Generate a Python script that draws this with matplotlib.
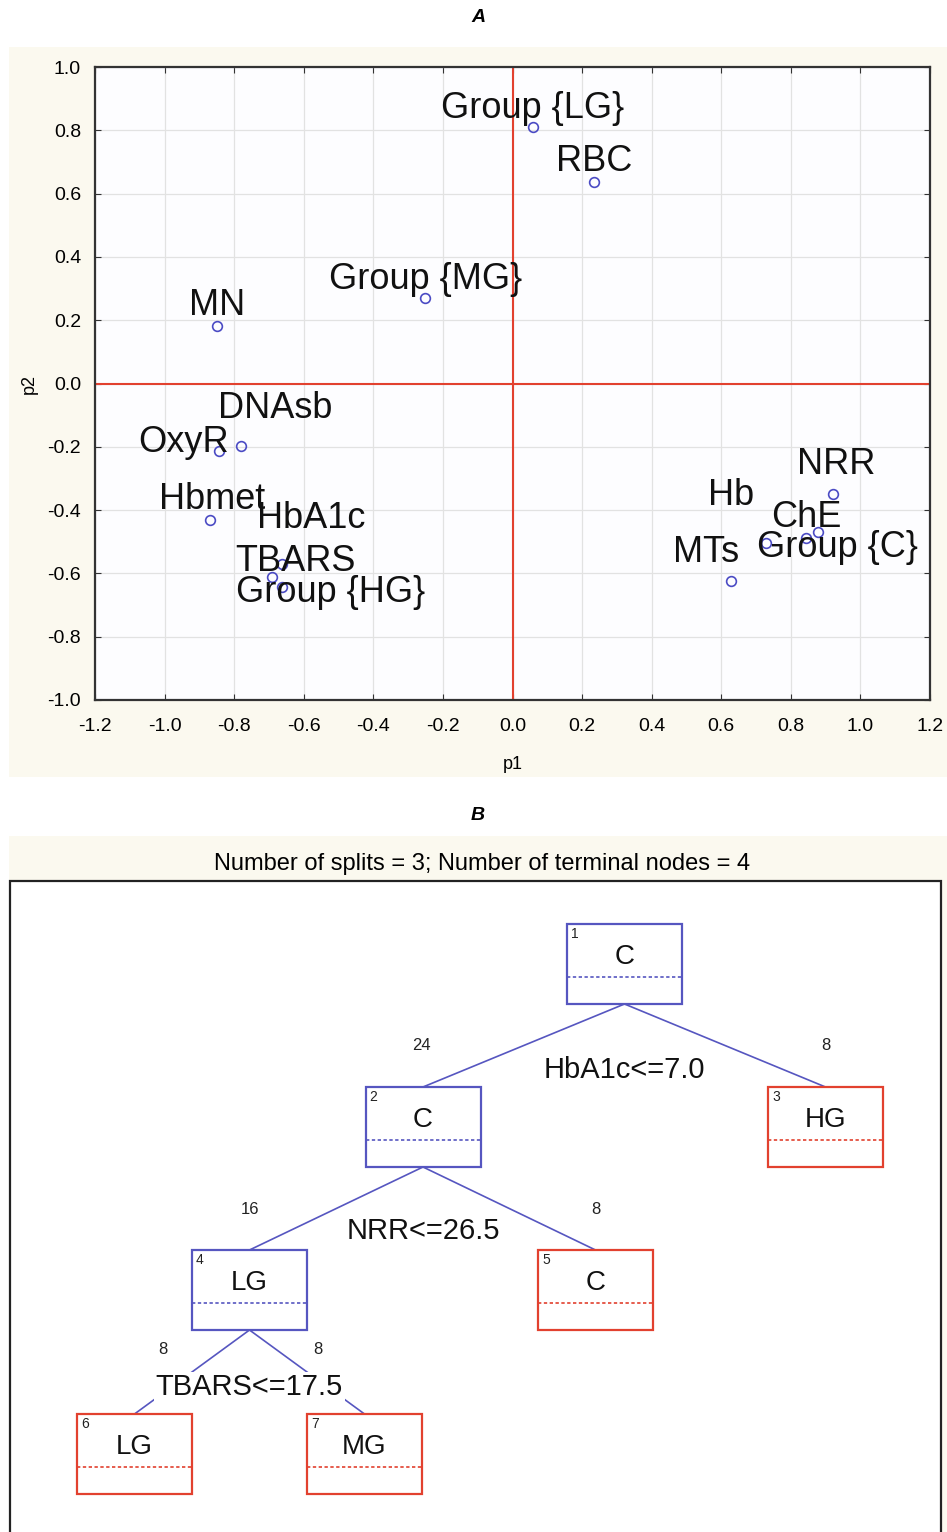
import numpy as np
import matplotlib.pyplot as plt
from matplotlib.patches import Rectangle

# ---- panel A data (PCA projection) ----
names = ['Group {LG}', 'RBC', 'Group {MG}', 'MN', 'DNAsb', 'OxyR', 'Hbmet',
         'HbA1c', 'TBARS', 'Group {HG}', 'NRR', 'ChE', 'Group {C}', 'Hb', 'MTs']
p1 = [0.059, 0.234, -0.251, -0.849, -0.780, -0.843, -0.869,
      -0.662, -0.691, -0.662, 0.920, 0.878, 0.845, 0.730, 0.627]
p2 = [0.810, 0.637, 0.270, 0.182, -0.197, -0.213, -0.431,
      -0.570, -0.611, -0.643, -0.350, -0.469, -0.487, -0.505, -0.623]
# label offsets from the point, in pixels (x right, y up)
lab_dx = [0, 0, 0, 0, 34, -36, 2, 29, 23, 48, 4, -12, 31, -35, -25]
lab_dy = [19, 20, 19, 20, 37, 8, 20, 45, 15, -5, 30, 14, -10, 48, 28]

# ---- panel B data (classification tree) ----
node_id = [1, 2, 3, 4, 5, 6, 7]
node_class = ['C', 'C', 'HG', 'LG', 'C', 'LG', 'MG']
node_parent = [0, 1, 1, 2, 2, 4, 4]
node_n = [32, 24, 8, 16, 8, 8, 8]
node_terminal = [False, False, True, False, True, True, True]
split_node = [1, 2, 4]
split_text = ['HbA1c<=7.0', 'NRR<=26.5', 'TBARS<=17.5']

# tree layout (pixels)
node_cx = [624.5, 423, 825.5, 249.5, 595.5, 134.5, 364.5]
node_top = [924, 1087, 1087, 1250, 1250, 1414, 1414]
count_xy = [None, (421, 1046), (826, 1046), (250, 1210), (596, 1210),
            (163, 1349), (318, 1349)]
split_dy = [66, 64, 57]
BW, BH = 115, 80

W, H = 947, 1532
fig = plt.figure(figsize=(W / 100, H / 100), dpi=100)
plt.rcParams['font.family'] = ['Liberation Sans', 'DejaVu Sans']

bg = fig.add_axes([0, 0, 1, 1])
bg.set_xlim(0, W)
bg.set_ylim(H, 0)
bg.axis('off')

cream = '#fbf9ef'
bg.add_patch(Rectangle((9, 47), W - 9, 730, facecolor=cream, edgecolor='none'))
bg.add_patch(Rectangle((9, 836), W - 9, H - 836, facecolor=cream, edgecolor='none'))
bg.add_patch(Rectangle((10, 881), 931, H - 881 + 5, facecolor='white',
                       edgecolor='#222222', linewidth=1.6))

bg.text(478, 18, 'A', fontsize=14, fontweight='bold', fontstyle='italic',
        ha='center', va='center')
bg.text(478, 816, 'B', fontsize=14, fontweight='bold', fontstyle='italic',
        ha='center', va='center')
bg.text(482, 864, 'Number of splits = 3; Number of terminal nodes = 4',
        fontsize=17, ha='center', va='center')

# ---- panel A ----
ax = fig.add_axes([95 / W, 1 - 700 / H, 835 / W, 633 / H])
ax.set_facecolor('#fdfdff')
ax.set_xlim(-1.2, 1.2)
ax.set_ylim(-1.0, 1.0)
xt = np.round(np.arange(-1.2, 1.21, 0.2), 1)
yt = np.round(np.arange(-1.0, 1.01, 0.2), 1)
ax.set_xticks(xt)
ax.set_yticks(yt)
ax.set_xticklabels(['%.1f' % (v + 0.0) for v in xt])
ax.set_yticklabels(['%.1f' % (v + 0.0) for v in yt])
ax.grid(True, color='#e2e2e2', linewidth=0.9)
ax.set_axisbelow(True)
ax.tick_params(direction='in', length=4, labelsize=14, top=True, right=True,
               color='#333333')
ax.tick_params(axis='x', pad=13)
ax.tick_params(axis='y', pad=10)
for s in ax.spines.values():
    s.set_linewidth(1.6)
    s.set_color('#333333')
ax.axhline(0, color='#e2412f', linewidth=1.5, zorder=2)
ax.axvline(0, color='#e2412f', linewidth=1.5, zorder=2)
ax.plot(p1, p2, 'o', markersize=7, markerfacecolor='none',
        markeredgecolor='#4b4bc4', markeredgewidth=1.2, zorder=3)
for i, name in enumerate(names):
    ax.annotate(name, (p1[i], p2[i]), xytext=(lab_dx[i], lab_dy[i]),
                textcoords='offset pixels', ha='center', va='center',
                fontsize=26, color='#111111', zorder=4)
ax.set_xlabel('p1', fontsize=13, labelpad=15)
ax.set_ylabel('p2', fontsize=13, labelpad=7)

# ---- panel B ----
blue = '#5656c0'
red = '#e2412f'
idx = {n: i for i, n in enumerate(node_id)}
for i, n in enumerate(node_id):
    par = node_parent[i]
    if par:
        j = idx[par]
        bg.plot([node_cx[j], node_cx[i]], [node_top[j] + BH, node_top[i]],
                color=blue, linewidth=1.2, zorder=2)
        cx, cy = count_xy[i]
        bg.text(cx, cy, str(node_n[i]), fontsize=12, ha='center', va='center',
                color='#222222')
for k, n in enumerate(split_node):
    j = idx[n]
    bg.text(node_cx[j], node_top[j] + BH + split_dy[k], split_text[k],
            fontsize=21, ha='center', va='center', color='#111111', zorder=3,
            bbox=dict(facecolor='white', edgecolor='none', pad=1))
for i, n in enumerate(node_id):
    col = red if node_terminal[i] else blue
    x0 = node_cx[i] - BW / 2
    y0 = node_top[i]
    bg.add_patch(Rectangle((x0, y0), BW, BH, facecolor='white',
                           edgecolor=col, linewidth=1.6, zorder=4))
    bg.plot([x0, x0 + BW], [y0 + 53, y0 + 53], color=col, linewidth=1.2,
            linestyle=(0, (2, 1.5)), zorder=5)
    bg.text(x0 + 4, y0 + 10, str(n), fontsize=10, ha='left', va='center',
            color='#222222', zorder=5)
    bg.text(node_cx[i], y0 + 33, node_class[i], fontsize=20, ha='center',
            va='center', color='#111111', zorder=5)

fig.savefig('out.png', dpi=100)
